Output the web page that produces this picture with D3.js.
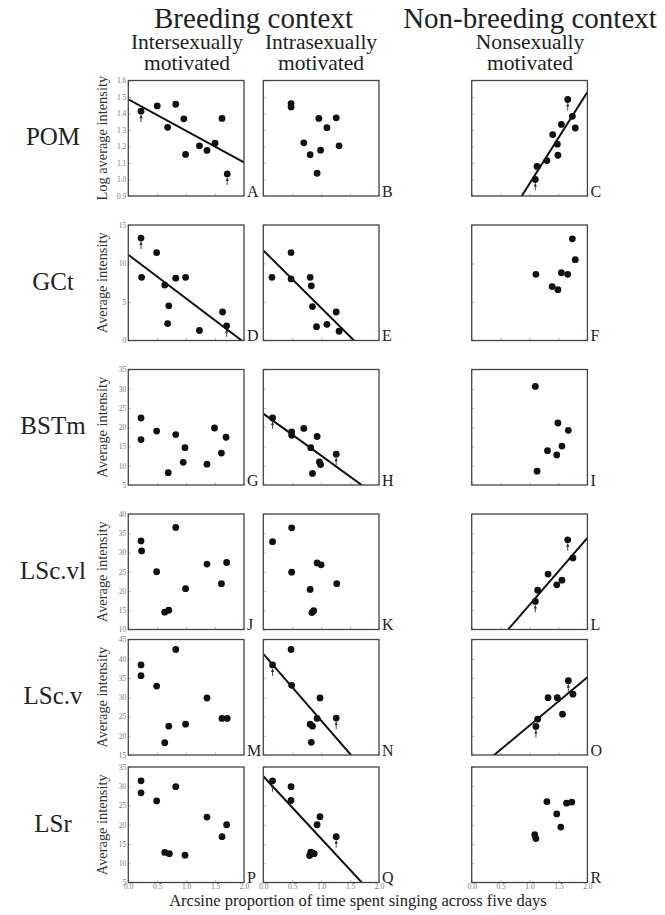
<!DOCTYPE html>
<html><head><meta charset="utf-8">
<script src="https://cdn.jsdelivr.net/npm/d3@7"></script>
<style>body{margin:0;background:#fff}svg{display:block}</style>
</head><body>
<svg id="chart" width="665" height="915"></svg>
<script>
// ---------- DATA ----------
const rowLabels = ["POM", "GCt", "BSTm", "LSc.vl", "LSc.v", "LSr"];
const yTitles = ["Log average intensity", "Average intensity", "Average intensity", "Average intensity", "Average intensity", "Average intensity"];
const yDomains = [[0.9, 1.6], [0, 15], [5, 35], [10, 40], [15, 45], [5, 35]];
const yTickValues = [
  [0.9, 1.0, 1.1, 1.2, 1.3, 1.4, 1.5, 1.6],
  [0, 5, 10, 15],
  [5, 10, 15, 20, 25, 30, 35],
  [10, 15, 20, 25, 30, 35, 40],
  [15, 20, 25, 30, 35, 40, 45],
  [5, 10, 15, 20, 25, 30, 35]
];
const yTickFormats = [".1f", "d", "d", "d", "d", "d"];
const xTickValues = [0, 0.5, 1.0, 1.5, 2.0];
const xDomain = [0, 2];
const panelLetters = ["A","B","C","D","E","F","G","H","I","J","K","L","M","N","O","P","Q","R"];
const columnHeads = ["Breeding context", "Non-breeding context"];
const subHeads = [["Intersexually", "motivated"], ["Intrasexually", "motivated"], ["Nonsexually", "motivated"]];
const xTitle = "Arcsine proportion of time spent singing across five days";

// per-panel series: x, y, arrow indices, fitted line [intercept, slope]
const xA = [0.22, 0.50, 0.68, 0.82, 0.96, 0.99, 1.23, 1.36, 1.50, 1.62, 1.71];
const yA = [1.414, 1.446, 1.316, 1.456, 1.368, 1.152, 1.204, 1.176, 1.220, 1.370, 1.034];
const arrowsA = [0, 10];
const lineA = [1.486, -0.191];

const xB = [0.48, 0.48, 0.70, 0.81, 0.96, 0.99, 0.93, 1.10, 1.26, 1.31];
const yB = [1.460, 1.440, 1.222, 1.150, 1.370, 1.178, 1.038, 1.314, 1.374, 1.204];

const xC = [1.66, 1.74, 1.55, 1.79, 1.40, 1.48, 1.49, 1.30, 1.13, 1.10];
const yC = [1.485, 1.383, 1.334, 1.312, 1.272, 1.214, 1.147, 1.115, 1.079, 1.000];
const arrowsC = [0, 9];
const lineC = [0.42, 0.555];

const xD = [0.22, 0.23, 0.49, 0.63, 0.70, 0.68, 0.82, 0.99, 1.23, 1.63, 1.70];
const yD = [13.3, 8.2, 11.4, 7.2, 4.5, 2.2, 8.1, 8.2, 1.3, 3.7, 1.9];
const arrowsD = [0, 10];
const lineD = [11.13, -5.68];

const xE = [0.15, 0.48, 0.48, 0.81, 0.83, 0.85, 0.92, 1.10, 1.26, 1.31];
const yE = [8.2, 11.4, 8.0, 8.2, 7.1, 4.4, 1.8, 2.1, 3.7, 1.2];
const lineE = [11.7, -7.46];

const xF = [1.74, 1.79, 1.11, 1.55, 1.66, 1.39, 1.49];
const yF = [13.2, 10.5, 8.6, 8.8, 8.6, 7.0, 6.6];

const xG = [0.22, 0.22, 0.49, 0.69, 0.82, 0.98, 0.95, 1.36, 1.49, 1.61, 1.69];
const yG = [22.4, 16.8, 19.0, 8.2, 18.1, 14.7, 10.9, 10.4, 19.8, 13.3, 17.4];

const xH = [0.16, 0.49, 0.49, 0.70, 0.93, 0.82, 0.97, 0.99, 0.85, 1.26];
const yH = [22.4, 18.8, 17.9, 19.7, 17.6, 14.7, 11.0, 10.3, 8.0, 13.0];
const arrowsH = [0, 9];
const lineH = [23.53, -10.9];

const xI = [1.10, 1.49, 1.67, 1.56, 1.31, 1.47, 1.13];
const yI = [30.6, 21.1, 19.2, 15.1, 13.9, 12.8, 8.6];

const xJ = [0.22, 0.23, 0.49, 0.82, 0.63, 0.70, 0.99, 1.36, 1.61, 1.70];
const yJ = [33.0, 30.4, 25.0, 36.5, 14.5, 15.0, 20.6, 27.0, 21.9, 27.4];

const xK = [0.16, 0.49, 0.49, 0.93, 1.00, 0.81, 1.27, 0.84, 0.87];
const yK = [32.8, 36.4, 24.9, 27.3, 26.8, 20.4, 21.9, 14.4, 14.9];

const xL = [1.66, 1.75, 1.32, 1.56, 1.47, 1.14, 1.10];
const yL = [33.3, 28.6, 24.4, 22.8, 21.6, 20.2, 17.3];
const arrowsL = [0, 6];
const lineL = [-0.94, 17.37];

const xM = [0.22, 0.22, 0.49, 0.82, 0.63, 0.70, 0.99, 1.36, 1.62, 1.71];
const yM = [38.4, 35.6, 32.9, 42.4, 18.2, 22.5, 23.0, 29.8, 24.5, 24.5];

const xN = [0.16, 0.48, 0.49, 0.98, 0.93, 0.81, 0.85, 0.83, 1.26];
const yN = [38.4, 42.4, 33.1, 29.8, 24.5, 23.0, 22.5, 18.3, 24.6];
const arrowsN = [0, 8];
const lineN = [41.26, -17.32];

const xO = [1.67, 1.75, 1.32, 1.48, 1.57, 1.14, 1.11];
const yO = [34.3, 30.8, 29.9, 29.9, 25.6, 24.3, 22.4];
const arrowsO = [0, 6];
const lineO = [10.14, 12.53];

const xP = [0.22, 0.22, 0.49, 0.82, 0.63, 0.71, 0.98, 1.36, 1.62, 1.70];
const yP = [31.4, 28.3, 26.2, 29.9, 12.8, 12.5, 12.1, 22.0, 16.9, 20.0];

const xQ = [0.16, 0.48, 0.48, 0.98, 0.93, 1.26, 0.80, 0.82, 0.85, 0.88];
const yQ = [31.4, 29.9, 26.3, 22.1, 20.0, 16.9, 12.0, 12.9, 12.6, 12.5];
const arrowsQ = [0, 5];
const lineQ = [32.6, -16.2];

const xR = [1.30, 1.64, 1.73, 1.47, 1.54, 1.09, 1.11];
const yR = [26.0, 25.6, 25.9, 22.8, 19.4, 17.4, 16.4];

// ---------- LAYOUT ----------
const panels = [
  {x: xA, y: yA, arrows: arrowsA, line: lineA}, {x: xB, y: yB}, {x: xC, y: yC, arrows: arrowsC, line: lineC},
  {x: xD, y: yD, arrows: arrowsD, line: lineD}, {x: xE, y: yE, line: lineE}, {x: xF, y: yF},
  {x: xG, y: yG}, {x: xH, y: yH, arrows: arrowsH, line: lineH}, {x: xI, y: yI},
  {x: xJ, y: yJ}, {x: xK, y: yK}, {x: xL, y: yL, arrows: arrowsL, line: lineL},
  {x: xM, y: yM}, {x: xN, y: yN, arrows: arrowsN, line: lineN}, {x: xO, y: yO, arrows: arrowsO, line: lineO},
  {x: xP, y: yP}, {x: xQ, y: yQ, arrows: arrowsQ, line: lineQ}, {x: xR, y: yR}
];
const colX = [128.3, 263.3, 471.7];
const rowY = [80.5, 225, 369.5, 514, 639.5, 767];
const PW = 115.7, PH = 115.5;
const FONT = "'Liberation Serif', 'Times New Roman', serif";

const svg = d3.select("#chart");
svg.append("rect").attr("width", 665).attr("height", 915).attr("fill", "#fff");

// headers
svg.append("text").attr("x", 253.5).attr("y", 28).attr("text-anchor", "middle")
  .attr("font-family", FONT).attr("font-size", 29).attr("fill", "#222").text(columnHeads[0]);
svg.append("text").attr("x", 530).attr("y", 28).attr("text-anchor", "middle")
  .attr("font-family", FONT).attr("font-size", 29).attr("fill", "#222").text(columnHeads[1]);
const subX = [187, 321, 530];
subHeads.forEach((lines, i) => {
  lines.forEach((t, j) => {
    svg.append("text").attr("x", subX[i]).attr("y", 49 + j * 21).attr("text-anchor", "middle")
      .attr("font-family", FONT).attr("font-size", 21.5).attr("fill", "#222").text(t);
  });
});

const defs = svg.append("defs");

panels.forEach((p, idx) => {
  const r = Math.floor(idx / 3), c = idx % 3;
  const x0 = colX[c], y0 = rowY[r];
  const x = d3.scaleLinear().domain(xDomain).range([x0, x0 + PW]);
  const y = d3.scaleLinear().domain(yDomains[r]).range([y0 + PH, y0]);
  const g = svg.append("g");

  // ticks (inside)
  const ya = d3.axisLeft(y).tickValues(yTickValues[r]).tickSize(-2.5).tickPadding(2)
    .tickFormat(c === 0 ? d3.format(yTickFormats[r]) : () => "");
  const yg = g.append("g").attr("transform", `translate(${x0},0)`).call(ya);
  const xa = d3.axisBottom(x).tickValues(xTickValues).tickSize(-2.5).tickPadding(1.5)
    .tickFormat(r === 5 ? d3.format(".1f") : () => "");
  const xg = g.append("g").attr("transform", `translate(0,${y0 + PH})`).call(xa);
  [yg, xg].forEach(a => {
    a.select(".domain").remove();
    a.selectAll(".tick line").attr("stroke", "#aaa").attr("stroke-width", 0.8);
    a.selectAll(".tick text").attr("font-family", FONT).attr("font-size", 7.5).attr("fill", "#777");
  });
  // drop empty tick labels so they don't occupy space
  [yg, xg].forEach(a => a.selectAll(".tick text").filter(function() { return this.textContent === ""; }).remove());

  // clip
  const cid = "clip" + idx;
  defs.append("clipPath").attr("id", cid).append("rect")
    .attr("x", x0).attr("y", y0).attr("width", PW).attr("height", PH);

  // regression line
  if (p.line) {
    const [b0, b1] = p.line;
    g.append("line").attr("clip-path", `url(#${cid})`)
      .attr("x1", x(xDomain[0])).attr("y1", y(b0 + b1 * xDomain[0]))
      .attr("x2", x(xDomain[1])).attr("y2", y(b0 + b1 * xDomain[1]))
      .attr("stroke", "#111").attr("stroke-width", 2);
  }

  // frame
  g.append("rect").attr("x", x0).attr("y", y0).attr("width", PW).attr("height", PH)
    .attr("fill", "none").attr("stroke", "#444").attr("stroke-width", 1.3);

  // arrows
  (p.arrows || []).forEach(i => {
    const cx = x(p.x[i]), cy = y(p.y[i]);
    g.append("line").attr("x1", cx).attr("x2", cx).attr("y1", cy + 4).attr("y2", cy + 11)
      .attr("stroke", "#333").attr("stroke-width", 0.9);
    g.append("path").attr("d", `M${cx},${cy + 3.4}L${cx - 1.6},${cy + 7}L${cx + 1.6},${cy + 7}Z`)
      .attr("fill", "#333");
  });

  // points
  g.selectAll("circle.pt").data(p.x.map((v, i) => [v, p.y[i]])).join("circle")
    .attr("class", "pt").attr("cx", d => x(d[0])).attr("cy", d => y(d[1])).attr("r", 3.4)
    .attr("fill", "#111");

  // panel letter
  svg.append("text").attr("x", x0 + PW + 3).attr("y", y0 + PH + 0.5)
    .attr("font-family", FONT).attr("font-size", 16).attr("fill", "#222").text(panelLetters[idx]);

  if (c === 0) {
    svg.append("text").attr("x", 53).attr("y", y0 + PH / 2 + 7).attr("text-anchor", "middle")
      .attr("font-family", FONT).attr("font-size", 25).attr("fill", "#222").text(rowLabels[r]);
    svg.append("text").attr("transform", `translate(107,${y0 + PH / 2}) rotate(-90)`)
      .attr("text-anchor", "middle").attr("font-family", FONT).attr("font-size", 14.4)
      .attr("fill", "#333").text(yTitles[r]);
  }
});

svg.append("text").attr("x", 358).attr("y", 906).attr("text-anchor", "middle")
  .attr("font-family", FONT).attr("font-size", 16.5).attr("fill", "#222").text(xTitle);
</script>
</body></html>
